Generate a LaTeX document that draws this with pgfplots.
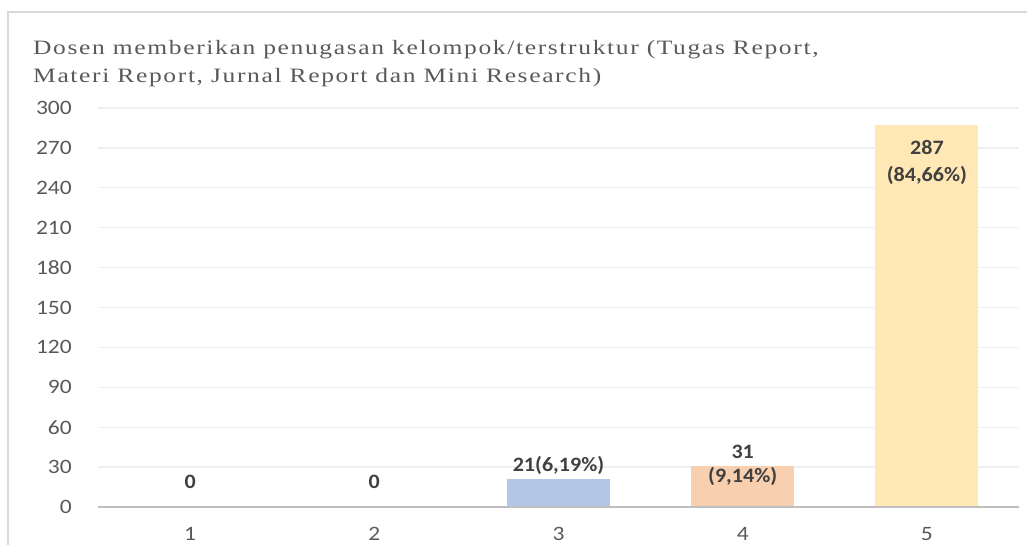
\documentclass[border=0pt]{standalone}
\usepackage{fontspec}
\setmainfont{Carlito}[FakeStretch=1.15]
\newfontfamily\titlefont{Liberation Serif}[FakeStretch=1.25,LetterSpace=8]
\newfontfamily\labelfont{Carlito}[FakeStretch=1.08]
\usepackage{pgfplots}
\pgfplotsset{compat=1.18}
\definecolor{tickc}{HTML}{595959}
\definecolor{labc}{HTML}{404040}
\definecolor{gridc}{HTML}{EFEFEF}
\definecolor{axisc}{HTML}{BFBFBF}
\definecolor{borderc}{HTML}{D9D9D9}
\definecolor{titlec}{HTML}{595959}
\definecolor{bblue}{HTML}{B4C7E7}
\definecolor{bpeach}{HTML}{F9D0AF}
\definecolor{byellow}{HTML}{FFE8B5}
\begin{document}
\begin{tikzpicture}
\useasboundingbox (0bp,0bp) rectangle (1027bp,545bp);
\draw[color=borderc, line width=1.5bp] (8bp,-5bp) -- (8bp,533bp) -- (1035bp,533bp);
\node[anchor=base west, inner sep=0, text=titlec, font=\titlefont\fontsize{20.5}{24}\selectfont] at (33bp,490bp) {Dosen memberikan penugasan kelompok/terstruktur (Tugas Report,};
\node[anchor=base west, inner sep=0, text=titlec, font=\titlefont\fontsize{20.5}{24}\selectfont] at (33bp,462bp) {Materi Report, Jurnal Report dan Mini Research)};
\begin{axis}[
  at={(98bp,38bp)}, anchor=south west,
  scale only axis, width=921bp, height=399bp,
  xmin=0.5, xmax=5.5, ymin=0, ymax=300,
  ytick={0,30,...,300}, xtick={1,2,3,4,5},
  ymajorgrids, grid style={color=gridc, line width=1.3bp},
  axis line style={draw=none},
  major tick length=0pt,
  /pgf/number format/assume math mode=true,
  tick label style={font=\fontsize{20.5}{24}\selectfont, text=tickc},
  yticklabel style={anchor=east, inner sep=0pt, xshift=-26bp},
  xticklabel style={anchor=base, inner sep=0pt, yshift=-33bp},
  ybar, bar width=0.56,
  clip=false,
]
\addplot[draw=none, fill=none, bar shift=0pt] coordinates {(1,0) (2,0)};
\addplot[draw=none, fill=bblue, bar shift=0pt] coordinates {(3,21)};
\addplot[draw=none, fill=bpeach, bar shift=0pt] coordinates {(4,31)};
\addplot[draw=none, fill=byellow, bar shift=0pt] coordinates {(5,287)};
\draw[color=axisc, line width=2.5bp] (axis cs:0.5,0) -- (axis cs:5.5,0);
\tikzset{lab/.style={inner sep=0, text=labc, font=\labelfont\bfseries\fontsize{20.5}{28}\selectfont}}
\node[lab] at (axis cs:1,18.8) {0};
\node[lab] at (axis cs:2,18.8) {0};
\node[lab] at (axis cs:3,31.6) {21(6,19\%)};
\node[lab] at (axis cs:4,41.4) {31};
\node[lab] at (axis cs:4,23.3) {(9,14\%)};
\node[lab] at (axis cs:5,270) {287};
\node[lab] at (axis cs:5,249) {(84,66\%)};
\end{axis}
\end{tikzpicture}
\end{document}
